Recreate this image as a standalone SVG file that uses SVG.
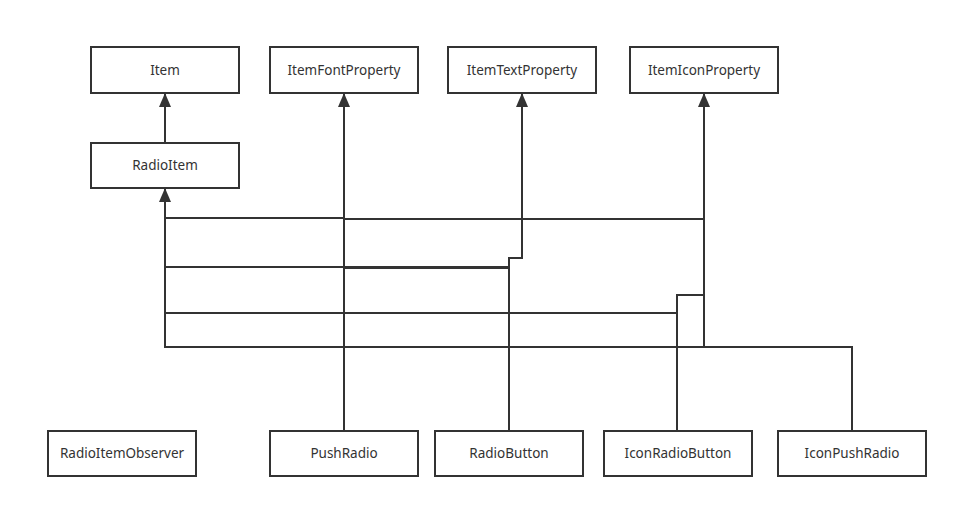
<svg xmlns="http://www.w3.org/2000/svg" width="958" height="508" viewBox="0 0 958 508">
<defs>
<style>
.box{fill:#fff;stroke:#333;stroke-width:2}
.lbl{font-family:"Noto Sans","Open Sans","Liberation Sans",sans-serif;font-size:13.5px;fill:#333;text-anchor:middle;dominant-baseline:central}
.c{fill:none;stroke:#333;stroke-width:2}
</style>
<marker id="arr" markerUnits="userSpaceOnUse" markerWidth="14" markerHeight="12" viewBox="0 0 14 12" refX="13" refY="6" orient="auto">
<path d="M0,0 L14,6 L0,12 z" fill="#333"/>
</marker>
</defs>
<rect width="958" height="508" fill="#fff"/>
<g id="connectors">
<path class="c" d="M165 143 V94" marker-end="url(#arr)"/>
<path class="c" d="M344 431 V94" marker-end="url(#arr)"/>
<path class="c" d="M344 218 H165 V189" marker-end="url(#arr)"/>
<path class="c" d="M509 431 V267 H165 V189"/>
<path class="c" d="M509 268 V258 H522 V94" marker-end="url(#arr)"/>
<path class="c" d="M509 268 H344"/>
<path class="c" d="M677 431 V313 H165"/>
<path class="c" d="M677 431 V295 H704 V94" marker-end="url(#arr)"/>
<path class="c" d="M852 431 V347 H165 V189"/>
<path class="c" d="M704 347 V219 H344"/>
</g>
<g id="Item"><rect class="box" x="91" y="47" width="148" height="46"/><text class="lbl" x="165" y="70">Item</text></g>
<g id="ItemFontProperty"><rect class="box" x="270" y="47" width="148" height="46"/><text class="lbl" x="344" y="70">ItemFontProperty</text></g>
<g id="ItemTextProperty"><rect class="box" x="448" y="47" width="148" height="46"/><text class="lbl" x="522" y="70">ItemTextProperty</text></g>
<g id="ItemIconProperty"><rect class="box" x="630" y="47" width="148" height="46"/><text class="lbl" x="704" y="70">ItemIconProperty</text></g>
<g id="RadioItem"><rect class="box" x="91" y="143" width="148" height="45"/><text class="lbl" x="165" y="165">RadioItem</text></g>
<g id="RadioItemObserver"><rect class="box" x="48" y="431" width="148" height="45"/><text class="lbl" x="122" y="453">RadioItemObserver</text></g>
<g id="PushRadio"><rect class="box" x="270" y="431" width="148" height="45"/><text class="lbl" x="344" y="453">PushRadio</text></g>
<g id="RadioButton"><rect class="box" x="435" y="431" width="148" height="45"/><text class="lbl" x="509" y="453">RadioButton</text></g>
<g id="IconRadioButton"><rect class="box" x="604" y="431" width="148" height="45"/><text class="lbl" x="678" y="453">IconRadioButton</text></g>
<g id="IconPushRadio"><rect class="box" x="778" y="431" width="148" height="45"/><text class="lbl" x="852" y="453">IconPushRadio</text></g>
</svg>
